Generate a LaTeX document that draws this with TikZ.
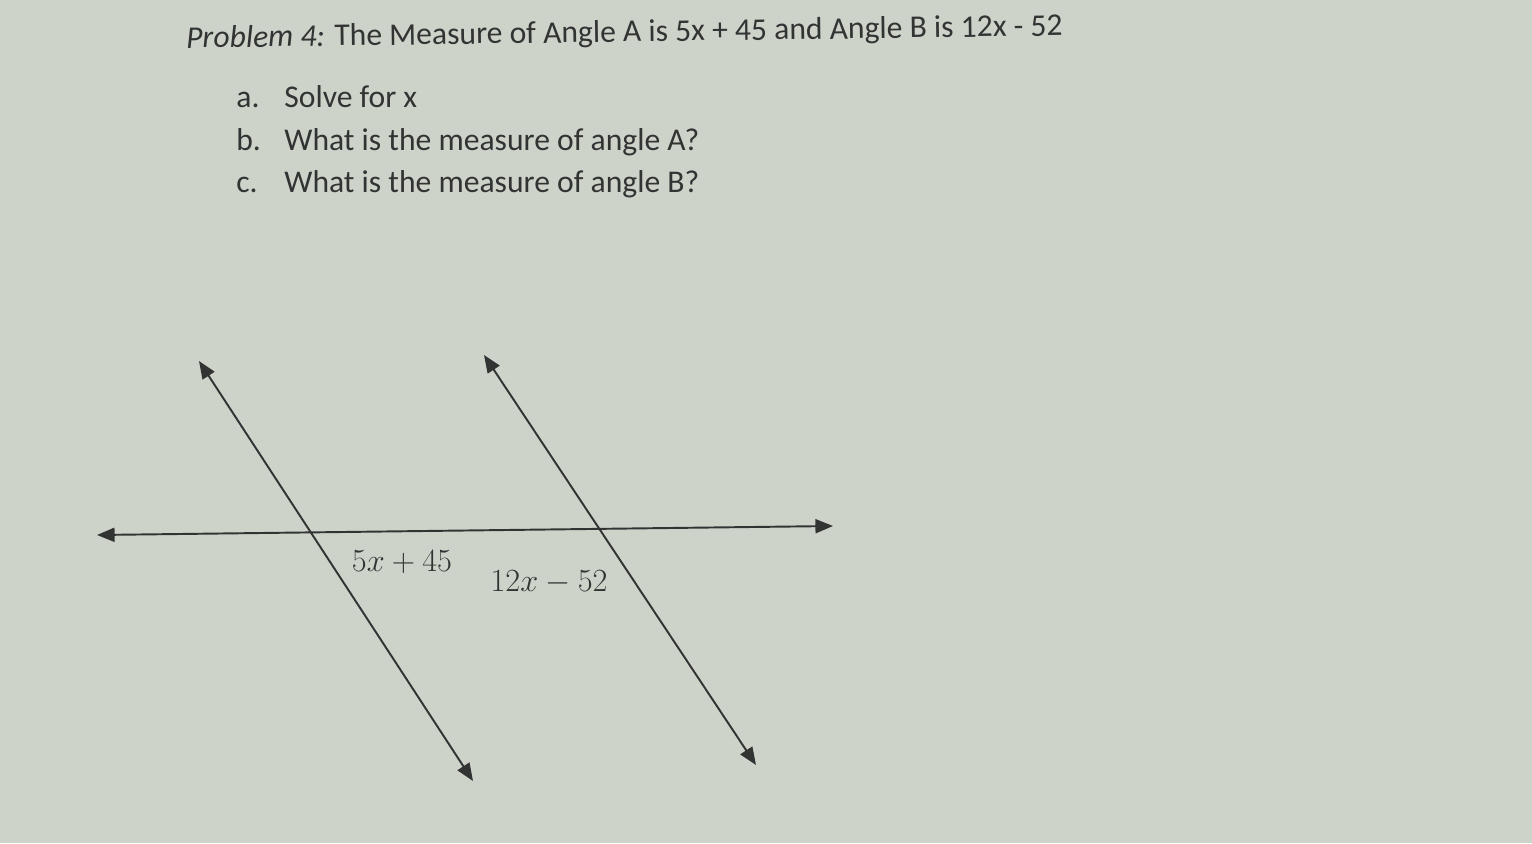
\RequirePackage{fix-cm}
\documentclass[tikz,border=0pt]{standalone}
\usepackage{fontspec}
\setmainfont{Carlito}
\usetikzlibrary{arrows.meta}
\definecolor{paper}{RGB}{205,211,201}
\definecolor{ink}{RGB}{50,52,52}
\tikzset{
	ray/.style = {draw = ink, line width = 1.1pt, {Triangle[length = 10pt, width = 8pt]}-{Triangle[length = 10pt, width = 8pt]}},
	txt/.style = {text = ink, anchor = base west, inner sep = 0pt, font = \fontsize{18}{21}\selectfont},
	lbl/.style = {text = ink, inner sep = 0pt, font = \fontsize{18.4}{21}\selectfont}
}
\begin{document}
\begin{tikzpicture}[x = 0.02cm, y = -0.02cm]
		\fill[paper] (0, 0) rectangle (1532, 843);
		% text of the problem
		\node[txt, rotate = 0.8] (title) at (186, 48) {\textit{Problem 4:} The Measure of Angle A is 5x + 45 and Angle B is 12x - 52};
		\node[txt] (qa) at (236, 107) {a.};
		\node[txt] (qb) at (236, 150) {b.};
		\node[txt] (qc) at (236, 192) {c.};
		\node[txt] (ta) at (284, 107) {Solve for x};
		\node[txt] (tb) at (284, 150) {What is the measure of angle A?};
		\node[txt] (tc) at (284, 192) {What is the measure of angle B?};
		% the three lines
		\coordinate (hl) at (97, 535);
		\coordinate (hr) at (833, 526);
		\coordinate (at) at (199, 361);
		\coordinate (ab) at (473, 781);
		\coordinate (bt) at (484, 355);
		\coordinate (bb) at (756, 765);
		\draw[ray] (hl) -- (hr);
		\draw[ray] (at) -- (ab);
		\draw[ray] (bt) -- (bb);
		% angle labels
		\node[lbl] (angA) at (402, 562) {$5x + 45$};
		\node[lbl] (angB) at (549, 582) {$12x - 52$};
	\end{tikzpicture}
\end{document}
